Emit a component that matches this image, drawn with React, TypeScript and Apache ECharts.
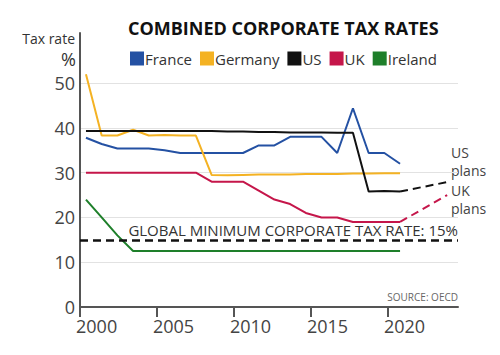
import React, { useEffect, useRef } from "react";
import * as echarts from "echarts";

const years = [2000, 2001, 2002, 2003, 2004, 2005, 2006, 2007, 2008, 2009, 2010, 2011, 2012, 2013, 2014, 2015, 2016, 2017, 2018, 2019, 2020];
const france = [37.8, 36.4, 35.4, 35.4, 35.4, 35.0, 34.4, 34.4, 34.4, 34.4, 34.4, 36.1, 36.1, 38.0, 38.0, 38.0, 34.4, 44.4, 34.4, 34.4, 32.0];
const germany = [52.0, 38.3, 38.3, 39.6, 38.3, 38.4, 38.3, 38.3, 29.5, 29.4, 29.5, 29.6, 29.6, 29.6, 29.7, 29.7, 29.7, 29.8, 29.8, 29.9, 29.9];
const us = [39.3, 39.3, 39.3, 39.3, 39.3, 39.3, 39.3, 39.3, 39.3, 39.2, 39.2, 39.1, 39.1, 39.0, 39.0, 39.0, 38.9, 38.9, 25.8, 25.9, 25.8];
const uk = [30, 30, 30, 30, 30, 30, 30, 30, 28, 28, 28, 26, 24, 23, 21, 20, 20, 19, 19, 19, 19];
const ireland = [24, 20, 16, 12.5, 12.5, 12.5, 12.5, 12.5, 12.5, 12.5, 12.5, 12.5, 12.5, 12.5, 12.5, 12.5, 12.5, 12.5, 12.5, 12.5, 12.5];
const planYears = [2020, 2023];
const usPlans = [25.8, 27.9];
const ukPlans = [19, 25];
const globalMinimum = 15;
const xTickLabels = [2000, 2005, 2010, 2015, 2020];
const yTickLabels = [0, 10, 20, 30, 40, 50];

const FONT = "'Open Sans', 'Noto Sans', sans-serif";
const COLORS = {
  France: "#2451a3",
  Germany: "#f4b223",
  US: "#111111",
  UK: "#c5164a",
  Ireland: "#1e7f2a",
};

const pair = (xs: number[], vs: number[]) => xs.map((x, i) => [x, vs[i]]);

export default function App() {
  const ref = useRef<HTMLDivElement>(null);
  useEffect(() => {
    if (!ref.current) return;
    const chart = echarts.init(ref.current, undefined, { renderer: "svg" });
    const lineSeries = (name: string, vals: number[]) => ({
      name,
      type: "line",
      xAxisIndex: 1,
      data: pair(years, vals),
      symbol: "none",
      lineStyle: { width: 2, color: (COLORS as any)[name] },
      itemStyle: { color: (COLORS as any)[name] },
    });
    const note = (text: string, top: number) => ({
      type: "text",
      left: 451,
      top,
      style: { text, fontFamily: FONT, fontSize: 14, fill: "#444" },
    });
    const option: any = {
      animation: false,
      title: {
        text: "COMBINED CORPORATE TAX RATES",
        left: 123,
        top: 14,
        textStyle: { fontFamily: FONT, fontSize: 18, fontWeight: "bold", color: "#111" },
      },
      legend: {
        data: ["France", "Germany", "US", "UK", "Ireland"],
        left: 125,
        top: 46,
        icon: "rect",
        itemWidth: 14,
        itemHeight: 14,
        itemGap: 8,
        textStyle: { fontFamily: FONT, fontSize: 15, color: "#333", padding: [0, 0, 0, -4] },
      },
      grid: { left: 80, right: 42, top: 33, bottom: 48 },
      xAxis: [
        {
          type: "value",
          min: 2000,
          max: 2024.55,
          interval: 5,
          axisLine: { show: true, lineStyle: { color: "#555", width: 2 } },
          axisTick: { show: true, length: 10, customValues: xTickLabels, lineStyle: { color: "#555", width: 2 } },
          axisLabel: {
            customValues: xTickLabels,
            align: "left",
            margin: 10,
            fontFamily: FONT,
            fontSize: 18,
            color: "#444",
            padding: [0, 0, 0, -4],
            formatter: (v: number) => String(v),
          },
          splitLine: { show: false },
        },
        { type: "value", min: 1999.62, max: 2023.69, show: false },
      ],
      yAxis: {
        type: "value",
        min: 0,
        max: 61.2,
        interval: 10,
        axisLine: { show: true, lineStyle: { color: "#555", width: 2 } },
        axisTick: { show: false, customValues: yTickLabels },
        axisLabel: { customValues: yTickLabels, margin: 5, fontFamily: FONT, fontSize: 18, color: "#444" },
        splitLine: { show: true, lineStyle: { color: "#e2e2e2", width: 1 } },
      },
      series: [
        lineSeries("France", france),
        lineSeries("Germany", germany),
        lineSeries("UK", uk),
        {
          ...lineSeries("Ireland", ireland),
          markLine: {
            silent: true,
            symbol: ["none", "none"],
            lineStyle: { color: "#111", type: [8, 5], width: 2.5 },
            label: {
              position: "insideEndTop",
              formatter: "GLOBAL MINIMUM CORPORATE TAX RATE: 15%",
              fontFamily: FONT,
              fontSize: 15,
              color: "#333",
              distance: [0, 2],
            },
            data: [{ yAxis: globalMinimum }],
          },
        },
        lineSeries("US", us),
        {
          name: "US plans",
          type: "line",
          xAxisIndex: 1,
          data: pair(planYears, usPlans),
          symbol: "none",
          lineStyle: { width: 2, color: COLORS.US, type: [8, 5] },
        },
        {
          name: "UK plans",
          type: "line",
          xAxisIndex: 1,
          data: pair(planYears, ukPlans),
          symbol: "none",
          lineStyle: { width: 2, color: COLORS.UK, type: [8, 5] },
        },
      ],
      graphic: [
        { type: "text", right: 425, top: 31, style: { text: "Tax rate", fontFamily: FONT, fontSize: 14, fill: "#333" } },
        { type: "text", right: 424, top: 50, style: { text: "%", fontFamily: FONT, fontSize: 18, fill: "#333" } },
        note("US", 145),
        note("plans", 163),
        note("UK", 183),
        note("plans", 201),
        { type: "text", right: 42, top: 292, style: { text: "SOURCE: OECD", fontFamily: FONT, fontSize: 10, fill: "#666" } },
      ],
    };
    chart.setOption(option);
    return () => chart.dispose();
  }, []);
  return <div ref={ref} style={{ position: "fixed", left: 0, top: 0, width: 500, height: 355, background: "#fff" }} />;
}
